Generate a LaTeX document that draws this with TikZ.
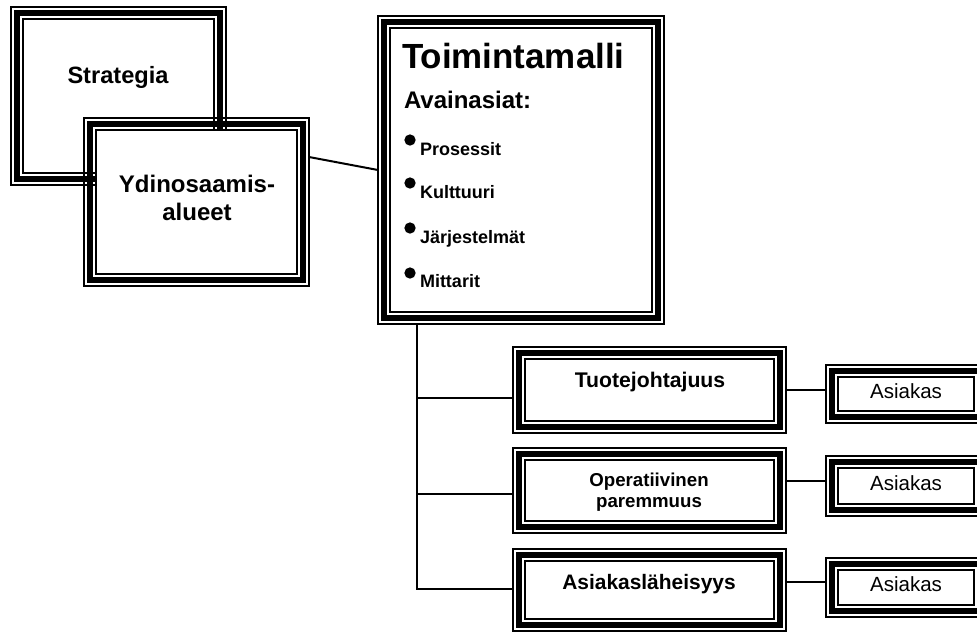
\documentclass[tikz,border=0pt]{standalone}
\usepackage{fontspec}
\setmainfont{Liberation Sans}
\usetikzlibrary{calc}
\tikzset{
  outerline/.style={draw=black, line width=1.5pt, inner sep=0pt, outer sep=0pt, rectangle},
  thickband/.style={draw=black, line width=4.5pt},
  thinline/.style={draw=black, line width=1.5pt},
  conn/.style={draw=black, line width=1.5pt},
  lbl/.style={inner sep=0pt, outer sep=0pt, anchor=base},
  lblw/.style={inner sep=0pt, outer sep=0pt, anchor=base west},
  bul/.style={circle, fill=black, inner sep=0pt, minimum size=8.5pt},
}
\newcommand{\fs}[1]{\fontsize{#1}{#1}\selectfont}
\newcommand{\tribox}[5]{%
  \node[outerline, anchor=north west, minimum width={(#4-#2-2)*0.75pt}, minimum height={(#5-#3-2)*0.75pt}] (#1) at (#2+1,#3+1) {};
  \draw[thickband] ([shift={(6,6)}]#1.north west) rectangle ([shift={(-6,-6)}]#1.south east);
  \draw[thinline, fill=white] ([shift={(12,12)}]#1.north west) rectangle ([shift={(-12,-12)}]#1.south east);
}
\begin{document}
\begin{tikzpicture}[x=0.75pt, y=-0.75pt]
\useasboundingbox (0,0) rectangle (977,633);
\clip (0,0) rectangle (977,633);
\fill[white] (0,0) rectangle (977,633);

% boxes
\tribox{strat}{10}{6}{227}{186}
\tribox{ydin}{83}{117}{310}{287}
\tribox{toim}{377}{15}{665}{325}
\tribox{tuo}{512}{346}{787}{434}
\tribox{ope}{512}{447}{787}{534}
\tribox{asl}{512}{548}{787}{632}
\tribox{as1}{825}{364}{987}{424}
\tribox{as2}{825}{455}{987}{517}
\tribox{as3}{825}{557}{987}{618}

% texts
\node[lbl] (tstrat) at (118,83) {\fs{17.7pt}\bfseries Strategia};
\node[lbl] (tydin1) at (197,192) {\fs{18pt}\bfseries Ydinosaamis-};
\node[lbl] (tydin2) at (197,220) {\fs{18pt}\bfseries alueet};
\node[lblw] (ttoim) at (402,68) {\fs{26.2pt}\bfseries Toimintamalli};
\node[lblw] (tavain) at (404,108) {\fs{18pt}\bfseries Avainasiat:};
\node[bul] (b1) at (410,140) {};
\node[bul] (b2) at (410,183) {};
\node[bul] (b3) at (410,228) {};
\node[bul] (b4) at (410,273) {};
\node[lblw] (t1) at (420,155) {\fs{13.5pt}\bfseries Prosessit};
\node[lblw] (t2) at (420,198) {\fs{13.5pt}\bfseries Kulttuuri};
\node[lblw] (t3) at (420,243) {\fs{13.5pt}\bfseries Järjestelmät};
\node[lblw] (t4) at (420,287) {\fs{13.5pt}\bfseries Mittarit};
\node[lbl] (ttuo) at (650,387) {\fs{15.9pt}\bfseries Tuotejohtajuus};
\node[lbl] (tope1) at (649,486) {\fs{14pt}\bfseries Operatiivinen};
\node[lbl] (tope2) at (649,507) {\fs{14pt}\bfseries paremmuus};
\node[lbl] (tasl) at (649,589) {\fs{15.7pt}\bfseries Asiakasläheisyys};
\node[lbl] (tas1) at (906,398) {\fs{15.4pt}Asiakas};
\node[lbl] (tas2) at (906,490) {\fs{15.4pt}Asiakas};
\node[lbl] (tas3) at (906,591) {\fs{15.4pt}Asiakas};

% connectors
\coordinate (ystart) at ([shift={(0,-45)}]ydin.east);
\draw[conn] (ystart) -- (toim.west);
\coordinate (trunk) at ([shift={(39,0)}]toim.south west);
\coordinate (e1) at ([shift={(0,8)}]tuo.west);
\coordinate (e2) at ([shift={(0,3)}]ope.west);
\coordinate (e3) at ([shift={(0,-1)}]asl.west);
\draw[conn] (trunk) |- (e3);
\draw[conn] (trunk |- e1) -- (e1);
\draw[conn] (trunk |- e2) -- (e2);
\coordinate (r1) at (tuo.east);
\coordinate (r2) at ([shift={(0,-10)}]ope.east);
\coordinate (r3) at ([shift={(0,-8)}]asl.east);
\draw[conn] (r1) -- (r1 -| as1.west);
\draw[conn] (r2) -- (r2 -| as2.west);
\draw[conn] (r3) -- (r3 -| as3.west);
\end{tikzpicture}
\end{document}
